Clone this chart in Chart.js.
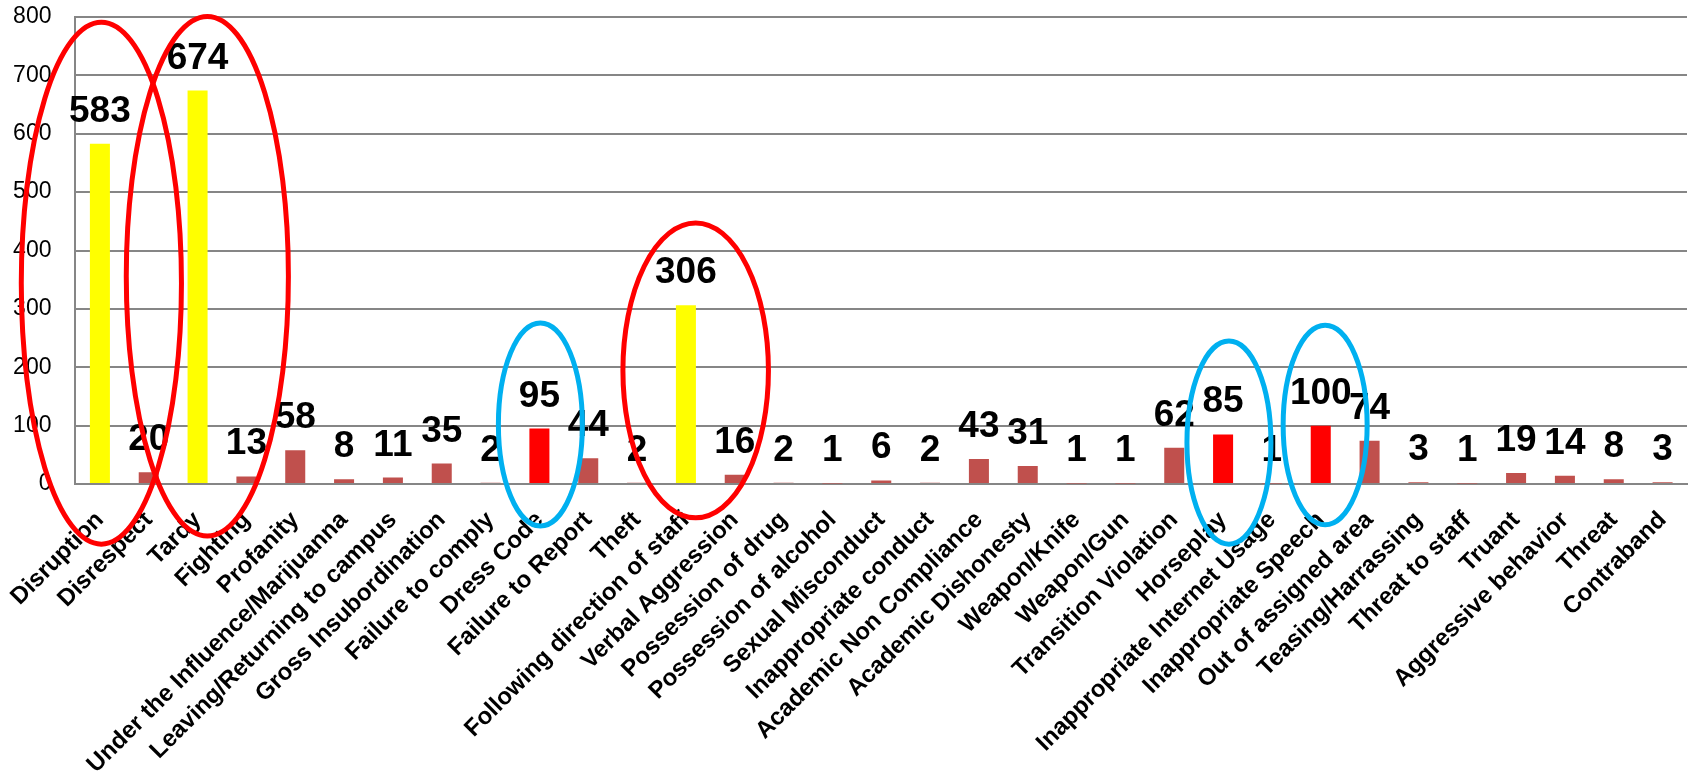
<!DOCTYPE html>
<html><head><meta charset="utf-8">
<script src="https://cdn.jsdelivr.net/npm/chart.js@4/dist/chart.umd.min.js"></script>
<style>html,body{margin:0;padding:0;background:#fff;}#wrap{width:1692px;height:774px;position:relative;}</style>
</head><body><div id="wrap"><canvas id="c"></canvas></div>
<script>
const categories = ['Disruption','Disrespect','Tardy','Fighting','Profanity','Under the Influence/Marijuanna','Leaving/Returning to campus','Gross Insubordination','Failure to comply','Dress Code','Failure to Report','Theft','Following direction of staff','Verbal Aggression','Possession of drug','Possession of alcohol','Sexual Misconduct','Inappropriate conduct','Academic Non Compliance','Academic Dishonesty','Weapon/Knife','Weapon/Gun','Transition Violation','Horseplay','Inappropriate Internet Usage','Inappropriate Speech','Out of assigned area','Teasing/Harrassing','Threat to staff','Truant','Aggressive behavior','Threat','Contraband'];
const counts = [583,20,674,13,58,8,11,35,2,95,44,2,306,16,2,1,6,2,43,31,1,1,62,85,1,100,74,3,1,19,14,8,3];
const yellowCategories = ['Disruption','Tardy','Following direction of staff'];
const redCategories = ['Dress Code','Horseplay','Inappropriate Speech'];
const yTickValues = [0,100,200,300,400,500,600,700,800];

// circled highlights: category, horizontal shift & half width (in categories), top/bottom (in values)
const circles = [
  {cat:'Disruption', shift:0.03, half:1.64, top:791, bottom:-103, color:'#FF0000'},
  {cat:'Tardy', shift:0.2, half:1.66, top:801, bottom:-89, color:'#FF0000'},
  {cat:'Following direction of staff', shift:0.2, half:1.49, top:447, bottom:-58, color:'#FF0000'},
  {cat:'Dress Code', shift:0.02, half:0.86, top:276, bottom:-72, color:'#00B0F0'},
  {cat:'Horseplay', shift:0.12, half:0.86, top:245, bottom:-103, color:'#00B0F0'},
  {cat:'Inappropriate Speech', shift:0.09, half:0.86, top:272, bottom:-70, color:'#00B0F0'}
];

const barColors = categories.map(c => yellowCategories.includes(c) ? '#FFFF00' : (redCategories.includes(c) ? '#FF0000' : '#C0504D'));

const labelPlugin = {
  id:'valueLabels',
  afterDatasetsDraw(chart){
    const ctx = chart.ctx;
    const meta = chart.getDatasetMeta(0);
    ctx.save();
    ctx.font = 'bold 37px "Liberation Sans", Arial, sans-serif';
    ctx.fillStyle = '#000';
    ctx.textAlign = 'center';
    ctx.textBaseline = 'alphabetic';
    meta.data.forEach((bar,i) => {
      ctx.fillText(String(counts[i]), bar.x, bar.y - 22);
    });
    ctx.restore();
  },
  afterDraw(chart){
    const ctx = chart.ctx;
    const xs = chart.scales.x, ys = chart.scales.y;
    const step = xs.getPixelForValue(1) - xs.getPixelForValue(0);
    ctx.save();
    ctx.lineWidth = 5;
    circles.forEach(e => {
      const idx = categories.indexOf(e.cat);
      const cx = xs.getPixelForValue(idx) + e.shift*step;
      const rx = e.half*step;
      const yt = ys.getPixelForValue(e.top), yb = ys.getPixelForValue(e.bottom);
      ctx.beginPath();
      ctx.strokeStyle = e.color;
      ctx.ellipse(cx, (yt+yb)/2, rx, (yb-yt)/2, 0, 0, Math.PI*2);
      ctx.stroke();
    });
    ctx.restore();
  }
};

new Chart(document.getElementById('c'), {
  type:'bar',
  data:{labels:categories, datasets:[{data:counts, backgroundColor:barColors, barPercentage:0.41, categoryPercentage:1}]},
  options:{
    responsive:true, maintainAspectRatio:false, animation:false,
    layout:{padding:{top:17,right:0,left:0,bottom:0}},
    plugins:{legend:{display:false}, tooltip:{enabled:false}},
    scales:{
      x:{
        grid:{display:false},
        border:{display:true,color:'#868686',width:2},
        ticks:{autoSkip:false, maxRotation:45, minRotation:45, color:'#000', padding:14,
          font:{family:'"Liberation Sans", Arial, sans-serif', size:24, weight:'bold'}},
        afterFit(s){ s.height = 290; s.paddingRight = 5; }
      },
      y:{
        min:0, max:800,
        afterBuildTicks(s){ s.ticks = yTickValues.map(v => ({value:v})); },
        grid:{color:'#868686', lineWidth:2, drawTicks:false},
        border:{display:true,color:'#868686',width:2},
        ticks:{color:'#000', padding:24, font:{family:'"Liberation Sans", Arial, sans-serif', size:23}},
        afterFit(s){ s.width = 75; s.paddingTop = 0; s.paddingBottom = 0; }
      }
    }
  },
  plugins:[labelPlugin]
});
</script></body></html>
